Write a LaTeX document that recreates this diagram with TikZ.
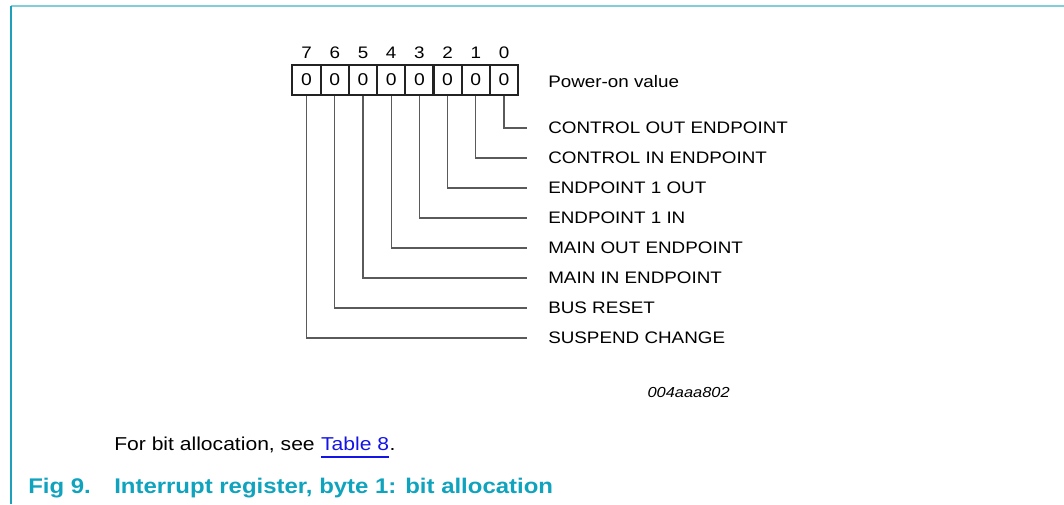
\documentclass[tikz,border=0pt]{standalone}
\usepackage{fontspec}
\setmainfont[FakeStretch=1.13]{Liberation Sans}
\usetikzlibrary{calc}
\definecolor{frametop}{RGB}{128,206,220}
\definecolor{frameleft}{RGB}{30,160,186}
\definecolor{capcol}{RGB}{16,163,190}
\definecolor{linkblue}{RGB}{20,20,230}
\definecolor{boxcol}{RGB}{34,34,34}
\definecolor{conncol}{RGB}{90,90,90}
\begin{document}
\begin{tikzpicture}[x=0.75pt,y=-0.75pt,
  cell/.style={draw=boxcol, line width=1.5pt, minimum width=21.19pt, minimum height=22.5pt, inner sep=0pt, font=\fontsize{12.8}{14}\selectfont},
  lab/.style={inner sep=0pt, anchor=base west, font=\fontsize{12.5}{14}\selectfont},
  num/.style={inner sep=0pt, anchor=base, font=\fontsize{12.5}{14}\selectfont},
  conn/.style={draw=conncol, line width=0.8pt},
  body/.style={inner sep=0pt, anchor=base west, font=\fontsize{14}{16}\selectfont},
  capt/.style={inner sep=0pt, anchor=base west, text=capcol, font=\fontsize{15.9}{18}\selectfont\bfseries},
  code/.style={inner sep=0pt, anchor=base east, font=\fontsize{10.9}{13}\selectfont\itshape}]
\useasboundingbox (0,0) rectangle (1064,504);
% frame
\draw[frametop, line width=1.5pt] (11,6) -- (1064,6);
\draw[frameleft, line width=1.5pt] (11,6) -- (11,504);
% register cells and bit numbers
\foreach \i in {0,...,7} {
  \node[cell] (b\i) at ({292.5+28.2*(7-\i)+14.1},80) {0};
  \node[num] (n\i) at ({292.5+28.2*(7-\i)+14.1},58) {\i};
}
\node[lab] (pov) at (548,87) {Power-on value};
% labels and connectors
\foreach \i/\t in {0/CONTROL OUT ENDPOINT, 1/CONTROL IN ENDPOINT, 2/ENDPOINT 1 OUT, 3/ENDPOINT 1 IN, 4/MAIN OUT ENDPOINT, 5/MAIN IN ENDPOINT, 6/BUS RESET, 7/SUSPEND CHANGE} {
  \node[lab] (l\i) at (548,{128+30*\i+5.9}) {\t};
  \coordinate (c\i) at (527,{128+30*\i});
  \draw[conn] (b\i.south) |- (c\i);
}
\node[code] (id) at (730,397) {004aaa802};
% note
\node[body] (for) at (114,450) {For bit allocation, see};
\node[body, text=linkblue, xshift=4.4pt] (tab) at (for.base east) {Table 8};
\node[body] (dot) at (tab.base east) {.};
\draw[linkblue, line width=0.8pt] ($(tab.base west)+(0,7)$) -- ($(tab.base east)+(0,7)$);
% caption
\node[capt] (fig) at (28,493) {Fig 9.};
\node[capt] (title) at (114,493) {Interrupt register, byte 1: bit allocation};
\end{tikzpicture}
\end{document}
